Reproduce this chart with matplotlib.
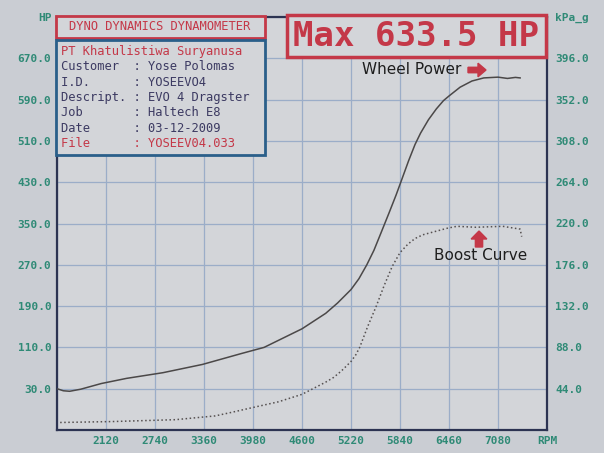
import matplotlib
matplotlib.use("Agg")
from matplotlib import pyplot as plt
from matplotlib.patches import Rectangle, FancyArrow

# Wheel power run (RPM vs HP)
power_rpm = [1500, 1580, 1660, 1800, 2060, 2380, 2840, 3340, 3830, 4120, 4600,
             4900, 5050, 5220, 5320, 5420, 5510, 5600, 5700, 5790, 5850, 5950,
             6030, 6100, 6200, 6300, 6390, 6460, 6600, 6750, 6900, 7080, 7200,
             7300, 7360]
power_hp = [30, 26, 25, 29, 40, 50, 61, 77, 98, 110, 146,
            176, 196, 222, 243, 270, 298, 332, 370, 405, 430, 472,
            503, 525, 551, 572, 588, 597, 614, 626, 632, 633.5, 631,
            633, 632]

# Boost curve (RPM vs kPa_g)
boost_rpm = [1540, 2200, 3000, 3500, 3720, 3980, 4300, 4600, 4900, 5000, 5100,
             5220, 5280, 5330, 5430, 5540, 5640, 5740, 5840, 5940, 6030, 6130,
             6440, 6560, 6800, 7140, 7360, 7380]
boost_kpa = [8, 9, 11, 15, 19, 24, 30, 38, 51, 56, 63,
             73, 80, 88, 110, 132, 154, 174, 189, 198, 204, 208,
             215, 217, 216, 217, 214, 206]

rpm_ticks = [1500 + 620 * k for k in range(11)]
rpm_labels = [""] + [str(v) for v in rpm_ticks[1:-1]] + ["RPM"]
hp_ticks = [-50 + 80 * k for k in range(11)]
hp_labels = [""] + ["%.1f" % v for v in hp_ticks[1:-1]] + ["HP"]
kpa_ticks = [44 * k for k in range(11)]
kpa_labels = [""] + ["%.1f" % v for v in kpa_ticks[1:-1]] + ["kPa_g"]

info_keys = ["Customer", "I.D.", "Descript.", "Job", "Date", "File"]
info_vals = ["Yose Polomas", "YOSEEVO4", "EVO 4 Dragster", "Haltech E8", "03-12-2009", "YOSEEV04.033"]

W, H = 604, 453
bg = "#cacdd3"
red = "#c43848"
navy = "#2c3352"
green = "#2f8a76"
ink = "#3c3a62"
mono = "DejaVu Sans Mono"

fig = plt.figure(figsize=(W / 100, H / 100), dpi=100, facecolor=bg)

def fx(x):
    return x / W

def fy(y):
    return 1 - y / H

ax = fig.add_axes([fx(57), fy(430), (547 - 57) / W, (430 - 17) / H])
ax.set_facecolor("#d3d5d9")
ax.set_xlim(1500, 7700)
ax.set_ylim(-50, 750)
ax.set_xticks(rpm_ticks)
ax.set_xticklabels(rpm_labels)
ax.set_yticks(hp_ticks)
ax.set_yticklabels(hp_labels)
ax.grid(color="#9badc8", lw=0.9)
ax.tick_params(length=0, colors=green, labelsize=8, pad=4)
for lab in ax.get_xticklabels() + ax.get_yticklabels():
    lab.set_family(mono)
    lab.set_weight("bold")
for s in ax.spines.values():
    s.set_color(navy)
    s.set_linewidth(1.6)

ax.plot(power_rpm, power_hp, color="#4b4848", lw=1.1, zorder=3)

ax2 = ax.twinx()
ax2.set_ylim(0, 440)
ax2.set_yticks(kpa_ticks)
ax2.set_yticklabels(kpa_labels)
ax2.tick_params(length=0, colors=green, labelsize=8, pad=6)
for lab in ax2.get_yticklabels():
    lab.set_family(mono)
    lab.set_weight("bold")
for s in ax2.spines.values():
    s.set_visible(False)
ax2.plot(boost_rpm, boost_kpa, color="#555050", lw=1.1, ls=":", zorder=3)

# header boxes
def box(x0, y0, x1, y1, color, lw=2):
    fig.add_artist(Rectangle((fx(x0), fy(y1)), fx(x1 - x0), (y1 - y0) / H,
                             transform=fig.transFigure, facecolor="#d3d5d9",
                             edgecolor=color, lw=lw, zorder=5))

box(56, 16, 265, 38, red)
fig.text(fx(160), fy(27), "DYNO DYNAMICS DYNAMOMETER", color=red, family=mono,
         fontsize=8.7, ha="center", va="center", zorder=6)

box(56, 40, 265, 155, "#2a5f8a")
fig.text(fx(61), fy(51), "PT Khatulistiwa Suryanusa", color=red, family=mono,
         fontsize=8.7, va="center", zorder=6)
for i in range(len(info_keys)):
    c = red if info_keys[i] == "File" else ink
    line = "%-10s: %s" % (info_keys[i], info_vals[i])
    fig.text(fx(61), fy(67 + 15.3 * i), line, color=c, family=mono,
             fontsize=8.7, va="center", zorder=6)

box(287, 15, 546, 57, red, lw=2.5)
fig.text(fx(416), fy(37), "Max 633.5 HP", color=red, family=mono, weight="bold",
         fontsize=24.5, ha="center", va="center", zorder=6)

# annotations
fig.text(fx(412), fy(70), "Wheel Power", color="#1e1e1e", fontsize=11,
         ha="center", va="center", zorder=6)
fig.add_artist(FancyArrow(fx(468), fy(70), fx(10), 0, width=0.012, head_width=0.03,
                          head_length=fx(8), transform=fig.transFigure,
                          color=red, zorder=6))
fig.text(fx(481), fy(256), "Boost Curve", color="#1e1e1e", fontsize=11,
         ha="center", va="center", zorder=6)
fig.add_artist(FancyArrow(fx(479), fy(247), 0, (247 - 239) / H, width=0.012, head_width=0.026,
                          head_length=8 / H, transform=fig.transFigure,
                          color=red, zorder=6))

fig.savefig("out.png", dpi=100, facecolor=bg)
